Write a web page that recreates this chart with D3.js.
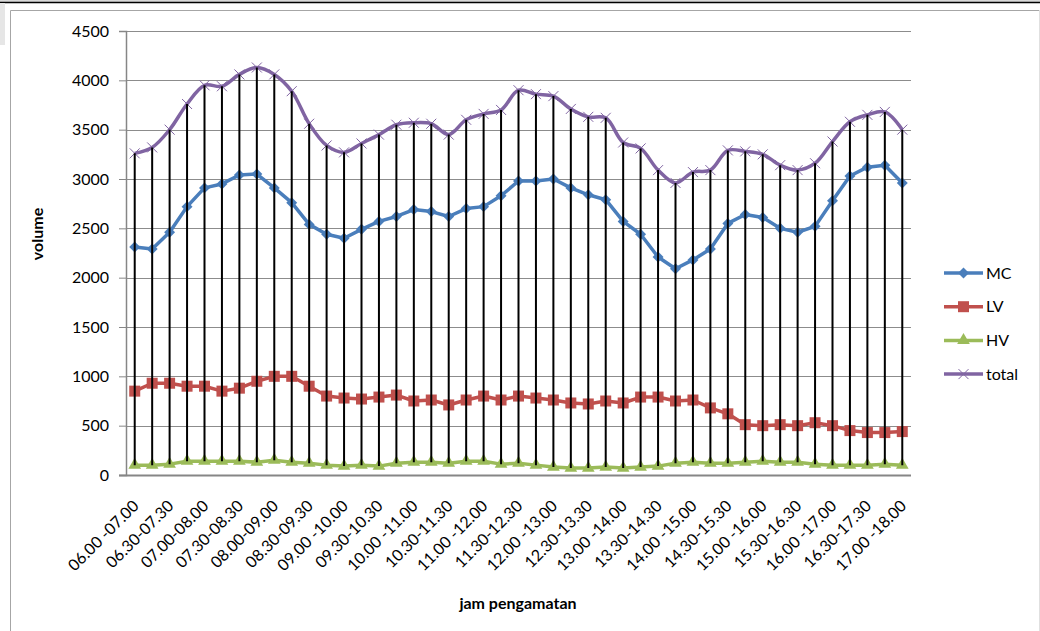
<!DOCTYPE html>
<html><head><meta charset="utf-8">
<script src="https://cdn.jsdelivr.net/npm/d3@7"></script>
<style>
body{margin:0;background:#fff;}
svg{display:block;font-family:Lato,"Liberation Sans",sans-serif;}
</style>
</head><body>
<svg id="c" width="1040" height="631"></svg>
<script>
const categories = [
  "06.00 -07.00","06.15-07.15","06.30-07.30","06.45-07.45","07.00-08.00","07.15-08.15",
  "07.30-08.30","07.45-08.45","08.00-09.00","08.15-09.15","08.30-09.30","08.45-09.45",
  "09.00 -10.00","09.15-10.15","09.30-10.30","09.45-10.45","10.00 -11.00","10.15-11.15",
  "10.30-11.30","10.45-11.45","11.00 -12.00","11.15-12.15","11.30-12.30","11.45-12.45",
  "12.00 -13.00","12.15-13.15","12.30-13.30","12.45-13.45","13.00 -14.00","13.15-14.15",
  "13.30-14.30","13.45-14.45","14.00 -15.00","14.15-15.15","14.30-15.30","14.45-15.45",
  "15.00 -16.00","15.15-16.15","15.30-16.30","15.45-16.45","16.00 -17.00","16.15-17.15",
  "16.30-17.30","16.45-17.45","17.00 -18.00"
];
const tickLabels = categories.filter((d, i) => i % 2 === 0);
const yTicks = [0, 500, 1000, 1500, 2000, 2500, 3000, 3500, 4000, 4500];
const seriesNames = ["MC", "LV", "HV", "total"];

const mc = [2310,2290,2460,2720,2910,2950,3040,3050,2910,2760,
            2540,2440,2400,2490,2570,2620,2690,2670,2620,2700,
            2720,2830,2980,2980,3000,2910,2840,2790,2570,2440,
            2210,2090,2180,2290,2550,2640,2610,2500,2460,2520,
            2780,3030,3120,3140,2960];
const lv = [850,930,930,900,900,850,880,950,1000,1000,
            900,800,780,770,790,810,750,760,710,760,
            800,760,800,780,760,730,720,750,730,790,
            790,750,760,680,620,510,500,510,500,530,
            500,450,430,430,440];
const hv = [100,100,110,140,140,140,140,130,150,130,
            120,100,90,100,90,120,130,130,120,140,
            140,110,120,100,80,70,70,80,70,80,
            90,120,130,120,120,130,140,130,130,110,
            100,100,100,110,100];
const total = [3260,3320,3500,3760,3950,3940,4060,4130,4060,3890,
               3560,3340,3270,3360,3450,3550,3570,3560,3450,3600,
               3660,3700,3900,3860,3840,3710,3630,3620,3370,3310,
               3090,2960,3070,3090,3290,3280,3250,3140,3090,3160,
               3380,3580,3650,3680,3500];

const colors = {MC:"#4A7EBB", LV:"#C0504D", HV:"#9BBB59", total:"#8064A2"};
const seriesData = {MC: mc, LV: lv, HV: hv, total: total};

const svg = d3.select("#c");
const W = 1040, H = 631;
const plot = {left:126, right:911, top:31, bottom:475};

// scan artefacts / frame
svg.append("rect").attr("x",0).attr("y",0).attr("width",W).attr("height",3).attr("fill","#d9d9d9");
svg.append("line").attr("x1",0).attr("x2",W).attr("y1",2.5).attr("y2",2.5).attr("stroke","#000").attr("stroke-width",1.5);
svg.append("rect").attr("x",0).attr("y",3).attr("width",5).attr("height",42).attr("fill","#e6e6e6");
svg.append("path").attr("d",`M10.5,${H}V10.5H${W}`).attr("fill","none").attr("stroke","#a6a6a6").attr("stroke-width",1);
svg.append("line").attr("x1",1039.5).attr("x2",1039.5).attr("y1",10).attr("y2",H).attr("stroke","#e0e0e0");

const x = d3.scaleBand().domain(categories).range([plot.left, plot.right]);
const y = d3.scaleLinear().domain([0, 4500]).range([plot.bottom, plot.top]);
const cx = c => x(c) + x.bandwidth() / 2;

// gridlines
svg.append("g").selectAll("line").data(yTicks.filter(d => d > 0)).join("line")
  .attr("x1", plot.left).attr("x2", plot.right)
  .attr("y1", d => Math.round(y(d)) + 0.5).attr("y2", d => Math.round(y(d)) + 0.5)
  .attr("stroke", "#8c8c8c").attr("stroke-width", 1);

// y axis
const yAxis = d3.axisLeft(y).tickValues(yTicks).tickSize(7).tickPadding(10).tickFormat(d3.format("d"));
const gy = svg.append("g").attr("transform", `translate(${plot.left},0)`).call(yAxis);
gy.select(".domain").attr("stroke", "#868686").attr("stroke-width", 1.5);
gy.selectAll(".tick line").attr("stroke", "#868686");
gy.selectAll("text").attr("font-size", 16).attr("fill", "#000").attr("font-family", "Lato");

// x axis
const xAxis = d3.axisBottom(x).tickValues(tickLabels).tickSize(0).tickPadding(0);
const gx = svg.append("g").attr("transform", `translate(0,${plot.bottom})`).call(xAxis);
gx.select(".domain").remove();
gx.selectAll("text").attr("font-size", 16).attr("fill", "#000").attr("font-family", "Lato")
  .attr("text-anchor", "end").attr("dy", 0).attr("y", 0)
  .attr("transform", "translate(5,32) rotate(-45)");
svg.append("line").attr("x1", plot.left - 7).attr("x2", plot.right)
  .attr("y1", plot.bottom + 0.5).attr("y2", plot.bottom + 0.5)
  .attr("stroke", "#868686").attr("stroke-width", 2);

// series lines
const straight = d3.line().x((d, i) => cx(categories[i])).y(d => y(d));
const smooth = d3.line().x((d, i) => cx(categories[i])).y(d => y(d)).curve(d3.curveCatmullRom.alpha(0.5));
seriesNames.forEach(name => {
  svg.append("path").datum(seriesData[name])
    .attr("d", name === "total" ? smooth : straight)
    .attr("fill", "none").attr("stroke", colors[name]).attr("stroke-width", 3.5)
    .attr("stroke-linejoin", "round");
});

// marker shapes
function marker(sel, name) {
  if (name === "MC") {
    sel.append("path").attr("d", d3.symbol(d3.symbolSquare, 60)).attr("transform", "rotate(45)")
      .attr("fill", colors.MC);
  } else if (name === "LV") {
    sel.append("path").attr("d", d3.symbol(d3.symbolSquare, 121)).attr("fill", colors.LV);
  } else if (name === "HV") {
    sel.append("path").attr("d", d3.symbol(d3.symbolTriangle, 70)).attr("fill", colors.HV);
  } else {
    sel.append("path").attr("d", "M-5,-5L5,5M-5,5L5,-5").attr("stroke", colors.total)
      .attr("stroke-width", 1).attr("fill", "none");
  }
}
seriesNames.forEach(name => {
  const g = svg.append("g");
  g.selectAll("g").data(seriesData[name]).join("g")
    .attr("transform", (d, i) => `translate(${cx(categories[i])},${y(d)})`)
    .each(function() { marker(d3.select(this), name); });
});

// high-low lines (from highest to lowest series value per category)
svg.append("g").selectAll("line").data(categories).join("line")
  .attr("x1", c => cx(c)).attr("x2", c => cx(c))
  .attr("y1", (c, i) => y(d3.max(seriesNames, n => seriesData[n][i])))
  .attr("y2", (c, i) => y(d3.min(seriesNames, n => seriesData[n][i])))
  .attr("stroke", "#000").attr("stroke-width", 2);

// legend
const lg = svg.append("g");
seriesNames.forEach((name, k) => {
  const ly = 273 + k * 33.7;
  const item = lg.append("g").attr("transform", `translate(0,${ly})`);
  item.append("line").attr("x1", 944).attr("x2", 983).attr("y1", 0).attr("y2", 0)
    .attr("stroke", colors[name]).attr("stroke-width", 3.5);
  const m = item.append("g").attr("transform", "translate(963.5,0)");
  marker(m, name);
  item.append("text").attr("x", 986).attr("y", 0).attr("dy", "0.35em")
    .attr("font-size", 16).attr("fill", "#000").text(name);
});

// axis titles
svg.append("text").attr("x", 518).attr("y", 609).attr("text-anchor", "middle")
  .attr("font-size", 16).attr("font-weight", "bold").attr("fill", "#000").text("jam pengamatan");
svg.append("text").attr("transform", "translate(43,234) rotate(-90)").attr("text-anchor", "middle")
  .attr("font-size", 16).attr("font-weight", "bold").attr("fill", "#000").text("volume");
</script>
</body></html>
